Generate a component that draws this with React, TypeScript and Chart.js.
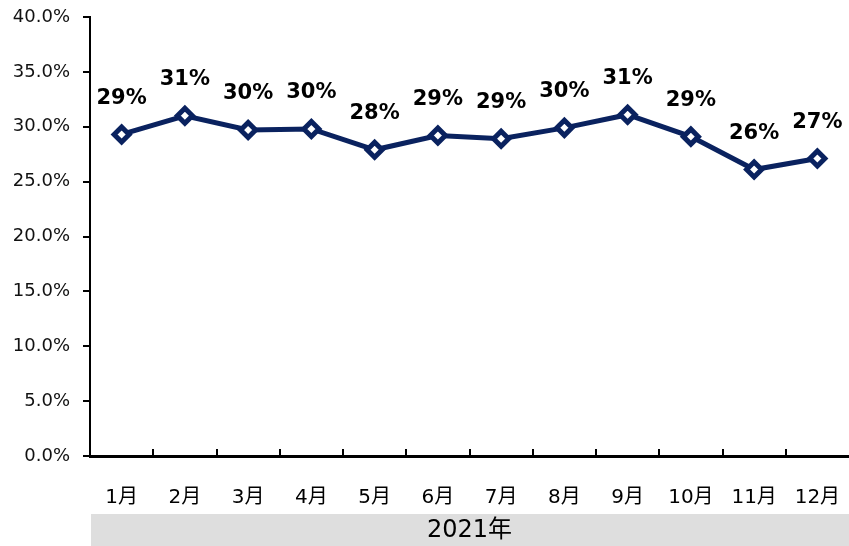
import React, { useEffect, useRef } from "react";
import { Chart, registerables } from "chart.js";

Chart.register(...registerables);

const categories = ["1月", "2月", "3月", "4月", "5月", "6月", "7月", "8月", "9月", "10月", "11月", "12月"];
const values = [29.3, 31.0, 29.7, 29.8, 27.9, 29.2, 28.9, 29.9, 31.1, 29.1, 26.1, 27.1];
const yearLabel = "2021年";
const yTicks = [0, 5, 10, 15, 20, 25, 30, 35, 40];

const FONT = "'DejaVu Sans', Verdana, 'Noto Sans CJK JP', sans-serif";
const NAVY = "#0a225f";

const decorPlugin = {
  id: "decor",
  afterDraw(chart: any) {
    const ctx = chart.ctx;
    const xs = chart.scales.x;
    const area = chart.chartArea;
    ctx.save();
    ctx.strokeStyle = "#000";
    ctx.lineWidth = 2;
    for (let i = 1; i < categories.length; i++) {
      const x = Math.round((xs.getPixelForValue(i - 1) + xs.getPixelForValue(i)) / 2);
      ctx.beginPath();
      ctx.moveTo(x, area.bottom);
      ctx.lineTo(x, area.bottom - 7);
      ctx.stroke();
    }
    const meta = chart.getDatasetMeta(0);
    ctx.fillStyle = "#000";
    ctx.font = "bold 21px " + FONT;
    ctx.textAlign = "center";
    ctx.textBaseline = "middle";
    meta.data.forEach((pt: any, i: number) => {
      ctx.fillText(Math.round(values[i]) + "%", pt.x, pt.y - 36);
    });
    ctx.fillStyle = "#dedede";
    ctx.fillRect(area.left + 1, 514, chart.width - area.left - 1, 32);
    ctx.fillStyle = "#000";
    ctx.font = "24px " + FONT;
    ctx.fillText(yearLabel, (area.left + chart.width) / 2, 531);
    ctx.restore();
  },
};

export default function App() {
  const ref = useRef<HTMLCanvasElement>(null);
  useEffect(() => {
    document.body.style.margin = "0";
    const chart = new Chart(ref.current!, {
      type: "line",
      data: {
        labels: categories,
        datasets: [
          {
            data: values,
            borderColor: NAVY,
            borderWidth: 5,
            pointStyle: "rectRot",
            pointRadius: 7.5,
            pointBackgroundColor: "#fff",
            pointBorderColor: NAVY,
            pointBorderWidth: 5,
            tension: 0,
            clip: false,
          },
        ],
      },
      options: {
        responsive: false,
        animation: false,
        layout: { autoPadding: false, padding: { top: 17, right: 0, left: 0, bottom: 0 } },
        plugins: { legend: { display: false }, tooltip: { enabled: false } },
        scales: {
          x: {
            offset: true,
            grid: { display: false },
            border: { display: true, color: "#000", width: 3 },
            ticks: { color: "#000", font: { size: 20, family: FONT }, padding: 22, maxRotation: 0 },
            afterFit: (s: any) => { s.height = 90; s.paddingLeft = 0; s.paddingRight = 0; },
          },
          y: {
            min: 0,
            max: 40,
            afterBuildTicks: (s: any) => { s.ticks = yTicks.map((v) => ({ value: v })); },
            grid: { drawOnChartArea: false, tickLength: 7, color: "#000", lineWidth: 2 },
            border: { display: true, color: "#000", width: 2 },
            ticks: {
              color: "#111",
              font: { size: 18, family: FONT },
              padding: 13,
              callback: (v: any) => Number(v).toFixed(1) + "%",
            },
            afterFit: (s: any) => { s.width = 90; s.paddingTop = 0; s.paddingBottom = 0; },
          },
        },
      },
      plugins: [decorPlugin],
    });
    return () => chart.destroy();
  }, []);
  return <canvas ref={ref} width={849} height={546} style={{ display: "block" }} />;
}
